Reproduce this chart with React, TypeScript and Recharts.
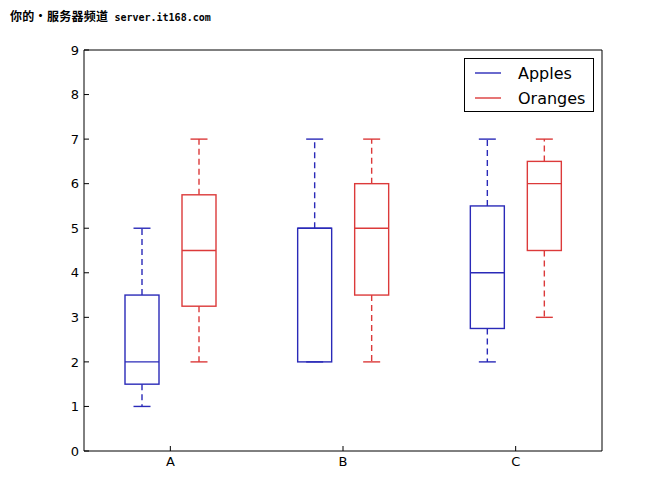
import { ComposedChart, Bar, Line, XAxis, YAxis, Legend } from "recharts";

const categories = ["A", "B", "C"];

const applesLow = [1, 2, 2];
const applesQ1 = [1.5, 2, 2.75];
const applesMedian = [2, 5, 4];
const applesQ3 = [3.5, 5, 5.5];
const applesHigh = [5, 7, 7];

const orangesLow = [2, 2, 3];
const orangesQ1 = [3.25, 3.5, 4.5];
const orangesMedian = [4.5, 5, 6];
const orangesQ3 = [5.75, 6, 6.5];
const orangesHigh = [7, 7, 7];

const yTicks = [0, 1, 2, 3, 4, 5, 6, 7, 8, 9];

const BLUE = "#2a2ab8";
const RED = "#dc3a3a";

interface Stats {
  low: number;
  q1: number;
  median: number;
  q3: number;
  high: number;
}

const data = categories.map((name, i) => ({
  name,
  apples: { low: applesLow[i], q1: applesQ1[i], median: applesMedian[i], q3: applesQ3[i], high: applesHigh[i] },
  oranges: { low: orangesLow[i], q1: orangesQ1[i], median: orangesMedian[i], q3: orangesQ3[i], high: orangesHigh[i] },
}));

// The ranged bar spans low..high; inner levels are placed along that span.
function BoxShape(props: any) {
  const { x, y, width, height, stats, color } = props;
  const s: Stats = stats;
  const top = Math.min(y, y + height);
  const bottom = Math.max(y, y + height);
  const span = s.high - s.low || 1;
  const toY = (v: number) => bottom - ((v - s.low) / span) * (bottom - top);
  const cx = x + width / 2;
  const cap = width / 4;
  const yq1 = toY(s.q1);
  const yq3 = toY(s.q3);
  const ymed = toY(s.median);
  const ylo = toY(s.low);
  const yhi = toY(s.high);
  return (
    <g stroke={color} strokeWidth={1.4} fill="none">
      <line x1={cx} x2={cx} y1={yq3} y2={yhi} strokeDasharray="6 4" />
      <line x1={cx} x2={cx} y1={yq1} y2={ylo} strokeDasharray="6 4" />
      <line x1={cx - cap} x2={cx + cap} y1={yhi} y2={yhi} />
      <line x1={cx - cap} x2={cx + cap} y1={ylo} y2={ylo} />
      <rect x={x} y={yq3} width={width} height={yq1 - yq3} />
      <line x1={x} x2={x + width} y1={ymed} y2={ymed} />
    </g>
  );
}

function LegendBox({ payload }: any) {
  const items = (payload || []).filter((p: any) => p.type !== "none");
  return (
    <div
      style={{
        width: 128,
        height: 52,
        border: "1px solid #000",
        background: "#fff",
        fontFamily: "DejaVu Sans",
        fontSize: 16,
        color: "#000",
        position: "relative",
      }}
    >
      {items.map((p: any, i: number) => (
        <div key={p.value} style={{ position: "absolute", left: 0, top: 3 + i * 25, height: 22, display: "flex", alignItems: "center" }}>
          <svg width={50} height={22}>
            <line x1={10} x2={36} y1={11} y2={11} stroke={p.color} strokeWidth={1.4} />
          </svg>
          <span style={{ marginLeft: 3 }}>{p.value}</span>
        </div>
      ))}
    </div>
  );
}

const tickStyle = { fill: "#000", fontSize: 13, fontFamily: "DejaVu Sans" };

export default function App() {
  return (
    <div style={{ position: "absolute", left: 0, top: 0, width: 670, height: 502, background: "#fff" }}>
      <div
        style={{
          position: "absolute",
          left: 10,
          top: 9,
          lineHeight: "14px",
          fontWeight: 700,
          color: "#000",
          whiteSpace: "nowrap",
          zIndex: 2,
        }}
      >
        <span style={{ fontFamily: "Noto Sans CJK SC", fontSize: 12, letterSpacing: 0.3 }}>你的•服务器频道</span>
        <span style={{ fontFamily: "DejaVu Sans Mono", fontSize: 10, marginLeft: 6 }}>server.it168.com</span>
      </div>
      <ComposedChart
        width={670}
        height={502}
        data={data}
        margin={{ top: 49, right: 67, bottom: 20, left: 0 }}
        barSize={34}
        barGap={23}
      >
        <XAxis
          dataKey="name"
          interval={0}
          height={31}
          axisLine={{ stroke: "#000" }}
          tickLine={{ stroke: "#000" }}
          tickSize={-5}
          tickMargin={11}
          tick={tickStyle}
        />
        <XAxis
          xAxisId="top"
          dataKey="name"
          orientation="top"
          interval={0}
          height={1}
          axisLine={{ stroke: "#000" }}
          tickLine={{ stroke: "#000" }}
          tickSize={-5}
          tick={false}
        />
        <YAxis
          type="number"
          domain={[0, 9]}
          ticks={yTicks}
          width={84}
          axisLine={{ stroke: "#000" }}
          tickLine={{ stroke: "#000" }}
          tickSize={-5}
          tickMargin={10}
          tick={tickStyle}
        />
        <YAxis
          yAxisId="right"
          orientation="right"
          type="number"
          domain={[0, 9]}
          ticks={yTicks}
          width={1}
          axisLine={{ stroke: "#000" }}
          tickLine={{ stroke: "#000" }}
          tickSize={-5}
          tick={false}
        />
        <Legend
          layout="vertical"
          align="center"
          verticalAlign="middle"
          content={<LegendBox />}
          wrapperStyle={{ left: 464, top: 58, width: 130, height: 54 }}
        />
        {/* invisible series so the mirrored top/right frame axes get drawn */}
        <Line
          xAxisId="top"
          yAxisId="right"
          dataKey={(d: any) => d.apples.median}
          stroke="none"
          dot={false}
          activeDot={false}
          legendType="none"
          isAnimationActive={false}
        />
        <Bar
          name="Apples"
          dataKey={(d: any) => [d.apples.low, d.apples.high]}
          fill={BLUE}
          stroke={BLUE}
          legendType="plainline"
          isAnimationActive={false}
          shape={(p: any) => <BoxShape {...p} stats={p.payload.apples} color={BLUE} />}
        />
        <Bar
          name="Oranges"
          dataKey={(d: any) => [d.oranges.low, d.oranges.high]}
          fill={RED}
          stroke={RED}
          legendType="plainline"
          isAnimationActive={false}
          shape={(p: any) => <BoxShape {...p} stats={p.payload.oranges} color={RED} />}
        />
      </ComposedChart>
    </div>
  );
}
